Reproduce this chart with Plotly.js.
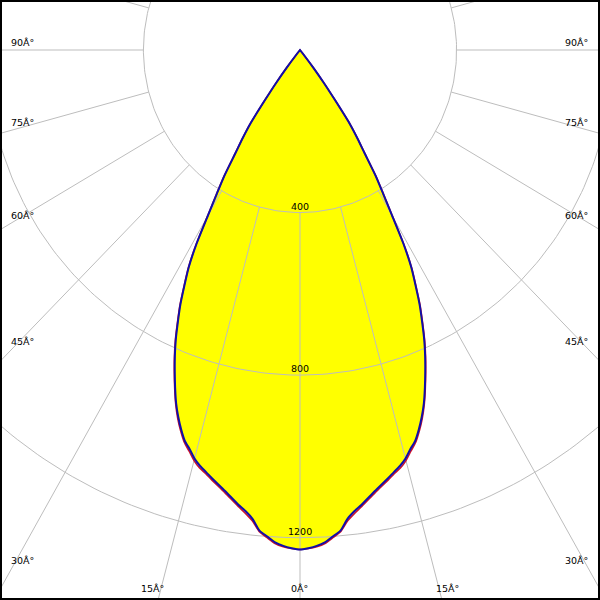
<!DOCTYPE html>
<html>
<head>
<meta charset="utf-8">
<script src="https://cdn.plot.ly/plotly-3.0.1.min.js"></script>
<style>html,body{margin:0;padding:0;background:#fff}#chart{width:600px;height:600px}</style>
</head>
<body>
<div id="chart"></div>
<script>
// Gamma angles (degrees from nadir)
const gamma = [0,1,2,3,4,5,6,7,8,10,12,13,14,15,16,17,18,19,20,21,22,23,24,25,26,27,28,29,30,31,32,33,34,35,36,37,38,39,40,90];
// Luminous intensity (cd) - plane C90/C270 (blue)
const intensityBlue = [1229,1226,1221,1213,1200,1187,1160,1143,1130,1102,1078,1066,1055,1041,1022,1006,982,955,925,890,854,818,780,738,697,650,605,545,470,412,363,303,262,220,150,100,55,15,0,0];
// Luminous intensity (cd) - plane C0/C180 (red)
const intensityRed = [1229,1227,1223,1216,1203,1190,1165,1148,1134,1106,1082,1070,1060,1046,1027,1010,986,959,928,893,857,821,783,741,700,653,608,548,473,415,366,306,265,224,155,105,60,18,0,0];
// Grid definitions
const gridRadii = [400, 800, 1200];
const gridLabels = ['400', '800', '1200'];
const spokeAngles = [0,15,30,45,60,75,90,105,120,135,150,165,180,195,210,225,240,255,270,285,300,315,330,345];
const angleLabelsLeft = ['90Â°','75Â°','60Â°','45Â°','30Â°'];
const angleLabelsRight = ['90Â°','75Â°','60Â°','45Â°','30Â°'];
const angleLabelsBottom = ['15Â°','0Â°','15Â°'];

const rad = Math.PI/180;
function curve(I){
  const xs=[], ys=[];
  for(let i=gamma.length-1;i>=0;i--){ xs.push(I[i]*Math.sin(gamma[i]*rad)); ys.push(-I[i]*Math.cos(gamma[i]*rad)); }
  for(let i=1;i<gamma.length;i++){ xs.push(-I[i]*Math.sin(gamma[i]*rad)); ys.push(-I[i]*Math.cos(gamma[i]*rad)); }
  return {x:xs,y:ys};
}
const traces=[];
const cb = curve(intensityBlue), cr = curve(intensityRed);
traces.push({x:cb.x,y:cb.y,mode:'lines',fill:'toself',fillcolor:'#ffff00',line:{width:0,color:'#ffff00',shape:'spline',smoothing:0.6},hoverinfo:'skip'});
const gridColor='#bdbdbd';
gridRadii.forEach(r=>{
  const xs=[],ys=[];
  for(let a=0;a<=360;a+=1){xs.push(r*Math.sin(a*rad));ys.push(-r*Math.cos(a*rad));}
  traces.push({x:xs,y:ys,mode:'lines',line:{color:gridColor,width:1},hoverinfo:'skip'});
});
spokeAngles.forEach(a=>{
  traces.push({x:[400*Math.sin(a*rad),3000*Math.sin(a*rad)],y:[-400*Math.cos(a*rad),-3000*Math.cos(a*rad)],mode:'lines',line:{color:gridColor,width:1},hoverinfo:'skip'});
});
traces.push({x:cr.x,y:cr.y,mode:'lines',line:{color:'#d0102a',width:1.6,shape:'spline',smoothing:0.6},hoverinfo:'skip'});
traces.push({x:cb.x,y:cb.y,mode:'lines',line:{color:'#1010a8',width:2,shape:'spline',smoothing:0.6},hoverinfo:'skip'});

const font={family:'DejaVu Sans, Verdana, sans-serif',size:9.5,color:'#000'};
const ann=[];
gridRadii.forEach((r,i)=>ann.push({x:0,y:-r,xref:'x',yref:'y',text:gridLabels[i],showarrow:false,xanchor:'center',yanchor:'bottom',yshift:-1,font:font}));
const sideY=[42,122,215,342,560];
sideY.forEach((py,i)=>{
  ann.push({x:9/600,y:1-py/600,xref:'paper',yref:'paper',text:angleLabelsLeft[i],showarrow:false,xanchor:'left',yanchor:'middle',font:font});
  ann.push({x:590/600,y:1-py/600,xref:'paper',yref:'paper',text:angleLabelsRight[i],showarrow:false,xanchor:'right',yanchor:'middle',font:font});
});
const bottomX=[152,299,447];
bottomX.forEach((px,i)=>ann.push({x:px/600,y:1-588/600,xref:'paper',yref:'paper',text:angleLabelsBottom[i],showarrow:false,xanchor:'center',yanchor:'middle',font:font}));

const pxPerCdY=0.4064, pxPerCdX=0.3915;
const layout={
  width:600,height:600,margin:{l:0,r:0,t:0,b:0},
  paper_bgcolor:'#fff',plot_bgcolor:'#fff',showlegend:false,
  xaxis:{range:[-300/pxPerCdX,300/pxPerCdX],visible:false,fixedrange:true},
  yaxis:{range:[-550/pxPerCdY,50/pxPerCdY],visible:false,fixedrange:true},
  annotations:ann,
  shapes:[{type:'rect',xref:'paper',yref:'paper',x0:0,x1:1,y0:0,y1:1,line:{color:'#000',width:4}}]
};
Plotly.newPlot('chart',traces,layout,{staticPlot:true,displayModeBar:false});
</script>
</body>
</html>
